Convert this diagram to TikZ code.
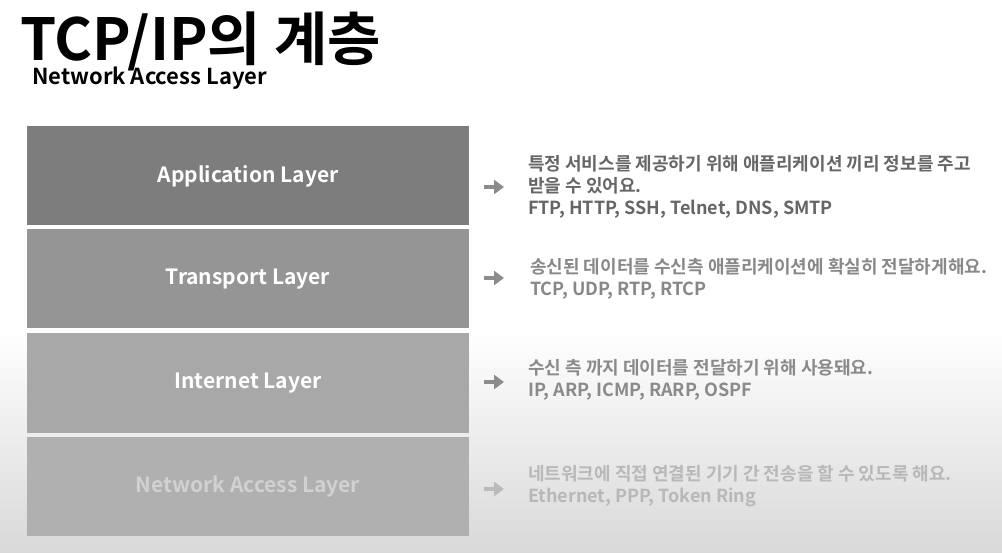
\documentclass[tikz,border=0pt]{standalone}
\usepackage{fontspec}
\setmainfont{Noto Sans CJK KR}[BoldFont={* Bold}]
\usetikzlibrary{arrows.meta}
\definecolor{bA}{HTML}{7D7D7D}
\definecolor{bB}{HTML}{959595}
\definecolor{bC}{HTML}{A8A8A8}
\definecolor{bD}{HTML}{B0B0B0}
\definecolor{tA}{HTML}{666666}
\definecolor{tB}{HTML}{888888}
\definecolor{tC}{HTML}{8A8A8A}
\definecolor{tD}{HTML}{B8B8B8}
\definecolor{arr}{HTML}{8C8C8C}
\tikzset{
  layerbox/.style={minimum width=442pt, minimum height=99pt, inner sep=0pt, font=\fontsize{21}{24}\selectfont\bfseries, text=white},
  desc/.style={anchor=west, align=left, inner sep=0pt, font=\fontsize{18}{22}\selectfont\bfseries},
  arrowline/.style={line width=4.5pt, -{Triangle[length=10pt,width=14pt]}}
}
\begin{document}
\begin{tikzpicture}[x=1pt,y=-1pt]
\useasboundingbox (0,0) rectangle (1002,553);
\fill[white] (0,0) rectangle (1002,330);
\shade[top color=white, bottom color=black!15] (0,330) rectangle (1002,553);
\node[anchor=west, inner sep=0pt, font=\fontsize{58}{60}\selectfont\bfseries] (title) at (20,41) {TCP/IP의 계층};
\node[anchor=west, inner sep=0pt, font=\fontsize{22}{24}\selectfont\bfseries] (sub) at (32,78) {Network Access Layer};
\node[layerbox, fill=bA] (app) at (248,176) {Application Layer};
\node[layerbox, fill=bB] (tra) at (248,279) {Transport Layer};
\node[layerbox, fill=bC] (int) at (248,383) {Internet Layer};
\node[layerbox, fill=bD, text=black!18] (net) at (248,486) {Network Access Layer};
\node[desc, text=tA] (dA) at (528,187) {특정 서비스를 제공하기 위해 애플리케이션 끼리 정보를 주고\\받을 수 있어요.\\FTP, HTTP, SSH, Telnet, DNS, SMTP};
\node[desc, text=tB] (dB) at (530,279) {송신된 데이터를 수신측 애플리케이션에 확실히 전달하게해요.\\TCP, UDP, RTP, RTCP};
\node[desc, text=tC] (dC) at (528,380) {수신 측 까지 데이터를 전달하기 위해 사용돼요.\\IP, ARP, ICMP, RARP, OSPF};
\node[desc, text=tD] (dD) at (528,486) {네트워크에 직접 연결된 기기 간 전송을 할 수 있도록 해요.\\Ethernet, PPP, Token Ring};
\coordinate (aA) at (484,187);
\coordinate (aB) at (484,278);
\coordinate (aC) at (484,382);
\coordinate (aD) at (484,489);
\draw[arrowline, arr] (aA) -- ++(20,0);
\draw[arrowline, arr] (aB) -- ++(20,0);
\draw[arrowline, arr] (aC) -- ++(20,0);
\draw[arrowline, arr!60] (aD) -- ++(20,0);
\end{tikzpicture}
\end{document}
